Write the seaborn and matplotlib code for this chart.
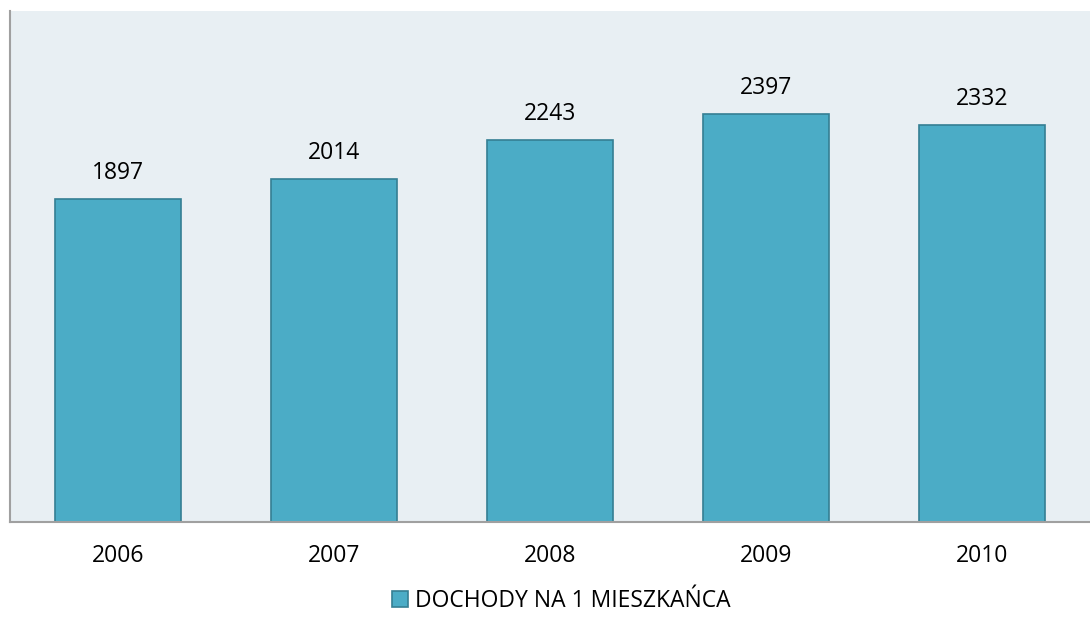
import matplotlib.pyplot as plt
import seaborn as sns
import pandas as pd
from matplotlib.patches import Patch

years = ['2006', '2007', '2008', '2009', '2010']
values = [1897, 2014, 2243, 2397, 2332]
series_name = 'DOCHODY NA 1 MIESZKAŃCA'

df = pd.DataFrame({'rok': years, 'dochody': values})

sns.set_style('white')
plt.rcParams['font.family'] = ['Open Sans', 'DejaVu Sans']
plt.rcParams['text.color'] = 'black'
plt.rcParams['xtick.color'] = 'black'

bar_color = '#4BACC6'
edge_color = '#357F93'

fig = plt.figure(figsize=(10.9, 6.23), dpi=100)
ax = fig.add_axes([10 / 1090, 1 - 522 / 623, 1 - 10 / 1090, 511 / 623])
ax.set_facecolor('#E8EFF3')

sns.barplot(data=df, x='rok', y='dochody', color=bar_color, width=0.58,
            edgecolor=edge_color, linewidth=1.2, saturation=1, ax=ax)

ax.set_ylim(0, 3000)
ax.set_xlim(-0.5, 4.5)
ax.set_yticks([])
ax.set_xlabel('')
ax.set_ylabel('')
ax.tick_params(axis='x', length=0, labelsize=16.5, labelcolor='black', pad=16)

for s in ['top', 'right']:
    ax.spines[s].set_visible(False)
for s in ['left', 'bottom']:
    ax.spines[s].set_color('#A0A0A0')
    ax.spines[s].set_linewidth(1.5)

for c in ax.containers:
    ax.bar_label(c, labels=[str(v) for v in values], padding=10, fontsize=16.5,
                 color='black')

handle = Patch(facecolor=bar_color, edgecolor=edge_color, linewidth=1.2)
fig.legend([handle], [series_name], loc='center', bbox_to_anchor=(561 / 1090, 1 - 601 / 623),
           frameon=False, fontsize=16.5, handlelength=0.7, handleheight=0.7,
           handletextpad=0.3, labelcolor='black')

fig.savefig('out.png', dpi=100)
